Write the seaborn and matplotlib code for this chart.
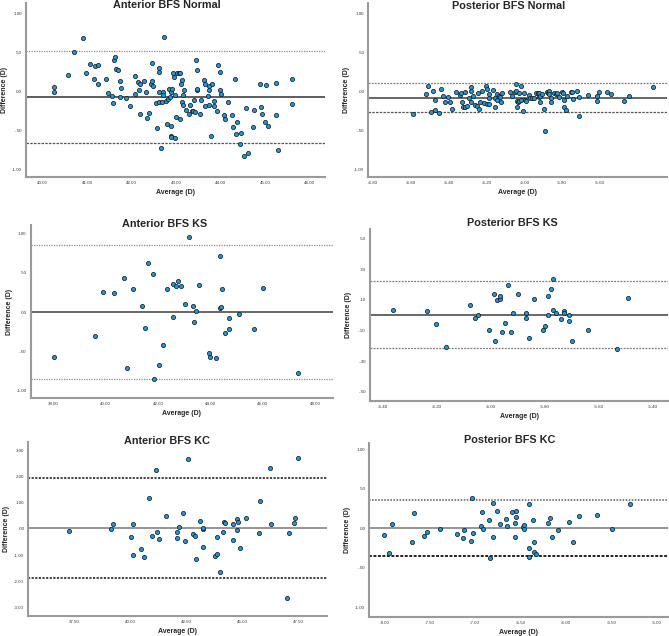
import numpy as np
import pandas as pd
import seaborn as sns
import matplotlib
matplotlib.use("Agg")
import matplotlib.pyplot as plt

# ---- data (Bland-Altman, average vs difference, D) ----

ant_normal_avg = [40.26, 40.25, 40.57, 40.72, 40.92, 40.98, 41.07, 41.17, 41.24, 41.15,
                  41.24, 41.42, 41.48, 41.57, 41.59, 41.60, 41.64, 41.66, 41.69, 41.74,
                  41.76, 41.75, 41.87, 41.96, 42.07, 42.08, 42.14, 42.16, 42.19, 42.19,
                  42.28, 42.32, 42.36, 42.40, 42.43, 42.46, 42.49, 42.47, 42.57, 42.56,
                  42.61, 42.61, 42.62, 42.61, 42.66, 42.68, 42.70, 42.71, 42.74, 42.77,
                  42.80, 42.83, 42.85, 42.86, 42.88, 42.88, 42.89, 42.90, 42.91, 42.94,
                  42.96, 42.97, 42.97, 43.00, 43.02, 43.06, 43.09, 43.09, 43.11, 43.13,
                  43.13, 43.15, 43.15, 43.19, 43.23, 43.30, 43.32, 43.35, 43.38, 43.40,
                  43.42, 43.45, 43.47, 43.48, 43.48, 43.54, 43.57, 43.62, 43.66, 43.66,
                  43.73, 43.74, 43.75, 43.75, 43.78, 43.81, 43.85, 43.85, 43.92, 43.94,
                  43.98, 43.99, 44.02, 44.07, 44.10, 44.16, 44.27, 44.29, 44.32, 44.34,
                  44.38, 44.45, 44.46, 44.53, 44.58, 44.63, 44.74, 44.76, 44.88, 44.91,
                  44.93, 45.01, 45.03, 45.07, 45.25, 45.24, 45.29, 45.61, 45.60]
ant_normal_diff = [0.056, -0.017, 0.21, 0.505, 0.685, 0.227, 0.343, 0.325, 0.334, 0.154,
                   0.086, 0.154, -0.026, -0.064, -0.146, 0.398, 0.433, 0.287, 0.274, 0.128,
                   0.043, -0.077, -0.086, -0.188, -0.034, 0.193, 0.116, 0.021, 0.086, -0.287,
                   0.124, -0.017, -0.347, -0.278, 0.086, 0.128, 0.069, 0.364, -0.471, -0.154,
                   -0.141, 0.24, 0.291, -0.009, -0.728, -0.137, -0.017, -0.043, 0.698, -0.128,
                   -0.415, -0.098, 0.026, -0.081, -0.441, -0.57, -0.582, -0.017, 0.026, 0.236,
                   0.188, -0.595, -0.047, -0.33, 0.236, 0.236, 0.236, -0.36, 0.086, 0.141,
                   -0.141, -0.171, -0.051, 0.021, -0.244, -0.291, -0.176, -0.257, -0.257, -0.111,
                   -0.27, 0.403, 0.009, 0.266, 0.034, -0.296, -0.116, 0.137, 0.086, -0.193,
                   -0.056, 0.009, 0.064, -0.18, -0.57, 0.094, -0.124, -0.188, -0.253, 0.334,
                   0.24, 0.009, -0.039, -0.30, -0.355, -0.137, -0.308, -0.458, 0.154, -0.548,
                   -0.398, -0.677, -0.535, -0.831, -0.214, -0.797, -0.458, -0.244, 0.086, -0.206,
                   -0.287, -0.398, 0.077, -0.45, 0.103, -0.308, -0.758, 0.154, -0.167]

post_normal_avg = [-6.588, -6.521, -6.509, -6.496, -6.486, -6.475, -6.475, -6.451, -6.442, -6.429,
                   -6.419, -6.405, -6.394, -6.383, -6.360, -6.341, -6.336, -6.329, -6.325, -6.316,
                   -6.315, -6.304, -6.293, -6.283, -6.281, -6.281, -6.271, -6.260, -6.249, -6.246,
                   -6.239, -6.235, -6.225, -6.214, -6.203, -6.200, -6.196, -6.189, -6.189, -6.188,
                   -6.166, -6.156, -6.154, -6.147, -6.144, -6.136, -6.129, -6.124, -6.120, -6.075,
                   -6.066, -6.052, -6.045, -6.043, -6.041, -6.039, -6.034, -6.029, -6.027, -6.016,
                   -6.018, -6.006, -6.004, -5.997, -5.993, -5.976, -5.972, -5.962, -5.949, -5.939,
                   -5.930, -5.923, -5.921, -5.919, -5.916, -5.907, -5.895, -5.893, -5.882, -5.877,
                   -5.872, -5.868, -5.859, -5.857, -5.842, -5.834, -5.829, -5.817, -5.803, -5.796,
                   -5.792, -5.792, -5.780, -5.776, -5.755, -5.748, -5.745, -5.722, -5.709, -5.709,
                   -5.663, -5.617, -5.617, -5.607, -5.563, -5.540, -5.471, -5.448, -5.321]
post_normal_diff = [-0.293, -0.030, 0.073, -0.259, 0.004, -0.108, -0.233, -0.272, 0.034, -0.056,
                    -0.129, -0.069, -0.129, -0.22, -0.004, -0.043, -0.013, -0.138, -0.194, 0.0,
                    -0.198, -0.19, -0.082, -0.134, 0.06, 0.004, -0.06, -0.172, -0.185, -0.013,
                    -0.224, -0.138, 0.013, -0.147, 0.065, 0.034, -0.155, -0.034, -0.078, -0.159,
                    0.022, -0.203, -0.078, -0.034, -0.108, -0.06, -0.073, -0.134, -0.013, -0.009,
                    -0.06, -0.009, 0.09, 0.013, -0.194, -0.116, -0.138, -0.013, -0.116, 0.073,
                    -0.108, -0.25, -0.017, -0.103, -0.121, -0.039, -0.086, -0.086, -0.086, -0.017,
                    -0.017, -0.073, -0.017, -0.06, -0.134, -0.034, -0.224, -0.504, -0.004, -0.013,
                    0.013, -0.030, -0.086, -0.134, -0.017, -0.030, -0.013, -0.073, -0.009, -0.013,
                    -0.108, -0.203, -0.241, -0.06, 0.0, 0.0, -0.091, 0.013, -0.31, -0.073,
                    -0.043, -0.06, -0.116, 0.0, -0.004, -0.026, -0.116, -0.052, 0.052]

ant_ks_avg = [38.04, 39.59, 39.91, 40.34, 40.70, 40.83, 41.06, 41.40, 41.50, 41.63,
              41.80, 41.86, 42.05, 42.18, 42.36, 42.57, 42.59, 42.68, 42.78, 42.90,
              43.04, 43.18, 43.36, 43.38, 43.44, 43.58, 43.97, 43.99, 44.23, 44.36,
              44.39, 44.41, 44.46, 44.55, 44.70, 44.73, 45.08, 45.67, 46.03, 47.34]
ant_ks_diff = [-0.581, -0.303, 0.261, 0.239, 0.44, -0.714, 0.299, 0.077, -0.201, 0.624,
               0.491, -0.863, -0.684, -0.423, 0.299, -0.068, 0.363, 0.333, 0.393, 0.333,
               0.098, 0.966, 0.077, -0.124, 0.009, 0.350, -0.521, -0.577, -0.594, 0.714,
               0.051, 0.06, 0.299, -0.265, -0.222, -0.081, -0.021, -0.222, 0.312, -0.778]

post_ks_avg = [-6.365, -6.236, -6.206, -6.167, -6.077, -6.058, -6.047, -6.007, -5.988, -5.986,
               -5.978, -5.968, -5.968, -5.958, -5.948, -5.938, -5.928, -5.919, -5.899, -5.869,
               -5.869, -5.859, -5.840, -5.809, -5.799, -5.790, -5.789, -5.779, -5.769, -5.769,
               -5.759, -5.740, -5.730, -5.730, -5.710, -5.710, -5.700, -5.641, -5.532, -5.491]
post_ks_diff = [0.035, 0.024, -0.057, -0.207, 0.065, -0.017, 0.002, -0.098, 0.135, -0.168,
                0.096, 0.105, 0.124, -0.109, -0.048, 0.194, -0.109, 0.013, 0.135, 0.013,
                -0.017, -0.148, 0.105, -0.098, -0.068, 0.002, 0.124, 0.174, 0.235, 0.035,
                0.013, -0.026, 0.024, 0.013, 0.002, -0.037, -0.168, -0.098, -0.218, 0.113]

ant_kc_avg = [37.28, 39.15, 39.24, 40.04, 40.12, 40.12, 40.46, 40.61, 40.83, 40.95,
              41.13, 41.18, 41.26, 41.58, 42.10, 42.10, 42.16, 42.35, 42.43, 42.57,
              42.80, 42.87, 42.95, 43.11, 43.23, 43.24, 43.26, 43.79, 43.85, 43.88,
              43.99, 44.12, 44.17, 44.24, 44.57, 44.57, 44.75, 44.76, 44.81, 44.88,
              45.16, 45.73, 45.79, 46.24, 46.27, 46.96, 47.08, 47.31, 47.35, 47.46]
ant_kc_diff = [-0.10, 0.01, 0.20, -0.31, 0.17, -0.98, -0.76, -1.06, 1.16, -0.27,
               2.25, -0.11, -0.38, 0.48, -0.13, -0.33, 0.06, 0.59, -0.45, 2.66,
               -0.20, -0.29, -1.15, 0.29, 0.00, -0.68, 0.04, -1.02, -0.32, -0.97,
               -1.66, -0.13, 0.27, 0.22, 0.17, -0.42, 0.38, -0.03, 0.27, -0.74,
               0.41, -0.14, 1.07, 2.32, 0.18, -2.65, -0.14, 0.22, 0.42, 2.70]

post_kc_avg = [-8.000, -7.945, -7.915, -7.691, -7.669, -7.563, -7.529, -7.382, -7.195, -7.136,
               -7.125, -7.048, -7.037, -7.026, -6.938, -6.926, -6.908, -6.846, -6.838, -6.798,
               -6.798, -6.761, -6.721, -6.662, -6.651, -6.588, -6.562, -6.559, -6.551, -6.551,
               -6.474, -6.463, -6.460, -6.404, -6.404, -6.401, -6.364, -6.349, -6.346, -6.324,
               -6.199, -6.173, -6.154, -6.085, -5.960, -5.919, -5.857, -5.658, -5.493, -5.298]
post_kc_diff = [-0.088, -0.315, 0.050, -0.176, 0.193, -0.097, -0.046, -0.004, -0.076, -0.118,
                -0.017, -0.155, 0.378, -0.059, 0.034, 0.202, -0.004, 0.101, -0.382, 0.319,
                -0.113, 0.223, 0.055, 0.113, 0.034, 0.210, 0.063, -0.113, 0.223, 0.147,
                0.021, 0.042, -0.008, 0.307, -0.244, -0.361, 0.101, -0.303, -0.176, -0.324,
                0.071, 0.134, -0.113, -0.017, 0.084, -0.176, 0.151, 0.168, -0.004, 0.303]

titles = ["Anterior BFS Normal", "Posterior BFS Normal",
          "Anterior BFS KS", "Posterior BFS KS",
          "Anterior BFS KC", "Posterior BFS KC"]
mean_diff = [-0.077, -0.081, 0.0, 0.004, 0.025, 0.005]
upper_loa = [0.51, 0.103, 0.859, 0.22, 1.94, 0.36]
lower_loa = [-0.658, -0.262, -0.863, -0.215, -1.89, -0.355]

xticks = [np.arange(40, 46.01, 1), np.arange(-6.8, -5.59, 0.2),
          np.arange(38, 48.01, 2), np.arange(-6.4, -5.39, 0.2),
          np.arange(37.5, 47.51, 2.5), np.arange(-8.0, -4.99, 0.5)]
yticks = [[-1, -0.5, 0, 0.5, 1], [-1, -0.5, 0, 0.5, 1],
          [-1, -0.5, 0, 0.5, 1], [-0.5, -0.3, -0.1, 0.1, 0.3, 0.5],
          [-3, -2, -1, 0, 1, 2, 3], [-1, -0.5, 0, 0.5, 1]]

datasets = [(ant_normal_avg, ant_normal_diff), (post_normal_avg, post_normal_diff),
            (ant_ks_avg, ant_ks_diff), (post_ks_avg, post_ks_diff),
            (ant_kc_avg, ant_kc_diff), (post_kc_avg, post_kc_diff)]

# ---- layout (pixels of the 669x636 picture) ----
W, H = 669, 636
boxes = [(26, 3, 325, 177), (368.3, 3, 666.7, 177),
         (30.7, 225, 333, 398.3), (370, 229, 668, 400.7),
         (28.3, 441.7, 326.7, 616), (369.3, 443, 668, 616.7)]
xlims = [(39.63, 46.35), (-6.826, -5.247), (37.14, 48.69),
         (-6.449, -5.344), (35.46, 48.75), (-8.165, -4.875)]
ylims = [(-1.10, 1.13), (-1.094, 1.133), (-1.106, 1.115),
         (-0.559, 0.563), (-3.32, 3.32), (-1.12, 1.08)]
title_pos = [(167, 8.5), (509, 9), (165, 227), (512, 226.5), (167, 444), (510, 443)]
# (color, linewidth, dash) for upper / lower limits of agreement
upper_style = [("#8a8a8a", 0.9, (1, 1)), ("#7a7a7a", 0.9, (1.5, 1)),
               ("#8a8a8a", 0.9, (1, 1)), ("#7a7a7a", 0.9, (1.5, 1)),
               ("#333333", 1.3, (1.2, 0.8)), ("#555555", 1.1, (1, 1))]
lower_style = [("#555555", 0.9, (2, 1)), ("#555555", 0.9, (2, 1)),
               ("#8a8a8a", 0.9, (1, 1)), ("#7a7a7a", 0.9, (1.5, 1)),
               ("#333333", 1.3, (1.2, 0.8)), ("#222222", 1.4, (1.5, 0.8))]
mean_col = ["#4f4f4f", "#5a5a5a", "#5a5a5a", "#5a5a5a", "#8c8c8c", "#8c8c8c"]


def spss_fmt(v):
    s = "%.2f" % v
    if s == "-0.00":
        s = "0.00"
    return s.replace("0.", ".", 1) if s.startswith("0.") or s.startswith("-0.") else s


sns.set_style("white")
plt.rcParams['font.family'] = ['Liberation Sans', 'DejaVu Sans']

fig = plt.figure(figsize=(W / 100, H / 100), dpi=100)

for i, (avg, diff) in enumerate(datasets):
    l, t, r, b = boxes[i]
    ax = fig.add_axes([l / W, 1 - b / H, (r - l) / W, (b - t) / H])
    df = pd.DataFrame({"Average": avg, "Difference": diff})

    ax.axhline(upper_loa[i], color=upper_style[i][0], lw=upper_style[i][1],
               dashes=upper_style[i][2], zorder=1)
    ax.axhline(lower_loa[i], color=lower_style[i][0], lw=lower_style[i][1],
               dashes=lower_style[i][2], zorder=1)
    ax.axhline(mean_diff[i], color=mean_col[i], lw=1.3, zorder=1)

    sns.scatterplot(data=df, x="Average", y="Difference", ax=ax, s=9,
                    color="#2398d4", edgecolor="#1a1a1a", linewidth=0.55, zorder=3)

    ax.set_xlim(*xlims[i])
    ax.set_ylim(*ylims[i])
    ax.set_xticks(xticks[i])
    ax.set_xticklabels([spss_fmt(v) for v in xticks[i]])
    ax.set_yticks(yticks[i])
    ax.set_yticklabels([spss_fmt(v) for v in yticks[i]])
    ax.tick_params(length=0, labelsize=3.2, labelcolor="#333333", pad=3)

    for side in ["top", "right"]:
        ax.spines[side].set_visible(False)
    for side in ["left", "bottom"]:
        ax.spines[side].set_color("#9a9a9a")
        ax.spines[side].set_linewidth(1.5)

    ax.set_xlabel("Average (D)", fontsize=5, fontweight="bold")
    ax.set_ylabel("Difference (D)", fontsize=5, fontweight="bold")
    ax.xaxis.label.set_va("center")
    ax.yaxis.label.set_va("center")
    ax.xaxis.set_label_coords(0.5, -15.5 / (b - t))
    ax.yaxis.set_label_coords(-21.5 / (r - l), 0.5)

    tx, ty = title_pos[i]
    fig.text(tx / W, 1 - ty / H, titles[i], ha="center", va="baseline",
             fontsize=7.8, fontweight="bold")

plt.savefig("out.png", dpi=100)
